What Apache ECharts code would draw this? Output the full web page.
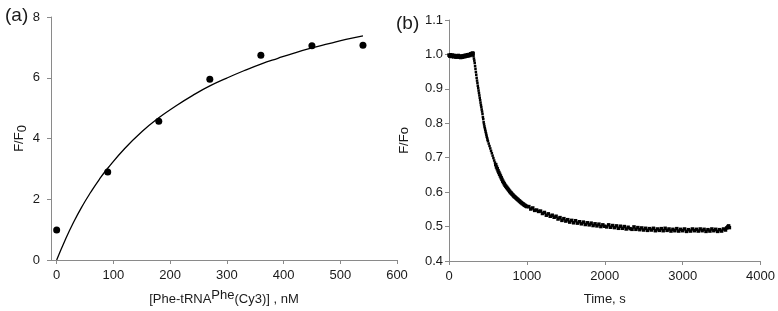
<!DOCTYPE html>
<html>
<head>
<meta charset="utf-8">
<script src="https://cdn.jsdelivr.net/npm/echarts@6/dist/echarts.min.js"></script>
<style>
  html, body { margin: 0; padding: 0; background: #fff; }
  #chart { width: 778px; height: 311px; }
</style>
</head>
<body>
<div id="chart"></div>
<script>
// panel (a): binding titration
const concTicks = [0, 100, 200, 300, 400, 500, 600];
const concPoints = [
  [0, 0.99], [90, 2.9], [180, 4.57], [270, 5.95],
  [360, 6.74], [450, 7.05], [540, 7.07],
];
// fitted curve
const fitCurve = [
  [0, 0], [15, 0.66], [30, 1.25], [45, 1.77], [60, 2.23], [75, 2.65],
  [90, 3.02], [120, 3.67], [150, 4.22], [180, 4.68], [210, 5.07],
  [240, 5.42], [270, 5.73], [300, 5.99], [330, 6.23], [360, 6.45],
  [390, 6.64], [420, 6.82], [450, 6.98], [480, 7.12], [510, 7.26],
  [540, 7.38],
];

// panel (b): time trace [s, F/Fo]
const tracePoints = [
  [0, 0.998], [10, 0.995], [20, 0.999], [30, 0.994], [40, 0.998], [50, 0.997],
  [60, 0.993], [70, 0.997], [80, 0.995], [90, 0.992], [100, 0.996], [110, 0.993],
  [120, 0.997], [130, 0.992], [140, 0.995], [150, 0.991], [160, 0.995], [170, 0.992],
  [180, 0.996], [190, 0.993], [200, 0.997], [210, 0.994], [220, 0.998], [230, 0.995],
  [240, 0.999], [250, 0.996], [260, 1.0], [270, 0.997], [280, 1.002], [290, 0.999],
  [300, 1.004], [310, 1.003],
  [315, 0.995], [320, 0.988], [325, 0.982], [330, 0.975], [335, 0.966], [340, 0.958],
  [345, 0.949], [350, 0.941], [355, 0.932], [360, 0.924], [365, 0.917], [370, 0.909],
  [375, 0.902], [380, 0.895], [385, 0.888], [390, 0.881], [395, 0.874], [400, 0.867],
  [405, 0.86], [410, 0.853], [415, 0.847], [420, 0.84], [425, 0.834], [430, 0.827],
  [435, 0.818], [440, 0.812], [445, 0.803], [450, 0.797], [455, 0.791], [460, 0.786],
  [465, 0.781], [470, 0.776], [475, 0.771], [480, 0.766], [485, 0.761], [490, 0.757],
  [495, 0.752], [500, 0.748],
  [510, 0.741], [520, 0.734], [530, 0.727], [540, 0.72], [550, 0.713], [560, 0.706],
  [570, 0.699], [580, 0.692], [590, 0.686], [600, 0.68], [610, 0.673], [620, 0.668],
  [630, 0.662], [640, 0.657], [650, 0.652], [660, 0.647], [670, 0.642], [680, 0.637],
  [690, 0.632], [700, 0.628], [710, 0.624], [720, 0.62], [730, 0.617], [740, 0.614],
  [750, 0.611], [760, 0.608], [770, 0.605], [780, 0.602], [790, 0.599], [800, 0.597],
  [810, 0.594], [820, 0.592], [830, 0.589], [840, 0.587], [850, 0.585], [860, 0.583],
  [870, 0.581], [880, 0.579], [890, 0.577], [900, 0.575], [910, 0.573], [920, 0.571],
  [930, 0.569], [940, 0.567], [950, 0.566], [960, 0.564], [970, 0.562], [980, 0.561],
  [990, 0.559], [1000, 0.558],
  [1025, 0.558], [1050, 0.551], [1075, 0.554], [1100, 0.547], [1125, 0.548], [1150, 0.544],
  [1175, 0.545], [1200, 0.538], [1225, 0.541], [1250, 0.533], [1275, 0.537], [1300, 0.53],
  [1325, 0.533], [1350, 0.527], [1375, 0.53], [1400, 0.522], [1425, 0.526], [1450, 0.518],
  [1475, 0.523], [1500, 0.516], [1525, 0.52], [1550, 0.513], [1575, 0.518], [1600, 0.511],
  [1625, 0.517], [1650, 0.51], [1675, 0.514], [1700, 0.508], [1725, 0.513], [1750, 0.506],
  [1775, 0.511], [1800, 0.505], [1825, 0.51], [1850, 0.503], [1875, 0.508], [1900, 0.502],
  [1925, 0.507], [1950, 0.5], [1975, 0.505], [2000, 0.501], [2025, 0.499], [2050, 0.505],
  [2075, 0.498], [2100, 0.503], [2125, 0.497], [2150, 0.502], [2175, 0.495], [2200, 0.501],
  [2225, 0.495], [2250, 0.5], [2275, 0.493], [2300, 0.498], [2325, 0.494], [2350, 0.492],
  [2375, 0.499], [2400, 0.492], [2425, 0.497], [2450, 0.491], [2475, 0.496], [2500, 0.49],
  [2525, 0.495], [2550, 0.489], [2575, 0.494], [2600, 0.49], [2625, 0.495], [2650, 0.488],
  [2675, 0.493], [2700, 0.489], [2725, 0.494], [2750, 0.488], [2775, 0.495], [2800, 0.489],
  [2825, 0.493], [2850, 0.487], [2875, 0.492], [2900, 0.488], [2925, 0.494], [2950, 0.487],
  [2975, 0.492], [3000, 0.488], [3025, 0.493], [3050, 0.486], [3075, 0.491], [3100, 0.487],
  [3125, 0.493], [3150, 0.488], [3175, 0.492], [3200, 0.487], [3225, 0.493], [3250, 0.488],
  [3275, 0.492], [3300, 0.486], [3325, 0.491], [3350, 0.487], [3375, 0.493], [3400, 0.488],
  [3425, 0.492], [3450, 0.486], [3475, 0.491], [3500, 0.487], [3525, 0.493], [3550, 0.49],
  [3565, 0.496], [3580, 0.499], [3590, 0.502], [3600, 0.497],
];

const FONT = '"Liberation Sans", Arial, sans-serif';
const axisGray = '#8a8a8a';
const labelColor = '#1a1a1a';

const baseAxis = {
  axisLine: { show: true, onZero: false, lineStyle: { color: axisGray, width: 1 } },
  axisTick: { show: true, inside: false, length: 4, lineStyle: { color: axisGray } },
  splitLine: { show: false },
  axisLabel: { color: labelColor, fontSize: 13, fontFamily: FONT },
  nameTextStyle: { color: labelColor, fontSize: 13, fontFamily: FONT },
};

const chart = echarts.init(document.getElementById('chart'));
const option = {
  animation: false,
  backgroundColor: '#fff',
  title: [
    { text: '(a)', left: 0, top: 1, textStyle: { fontSize: 19, fontWeight: 'normal', color: labelColor, fontFamily: FONT } },
    { text: '(b)', left: 391, top: 9, textStyle: { fontSize: 19, fontWeight: 'normal', color: labelColor, fontFamily: FONT } },
  ],
  grid: [
    { left: 51, right: 381, top: 17, bottom: 50 },
    { left: 449, right: 17, top: 20, bottom: 48 },
  ],
  xAxis: [
    {
      ...baseAxis,
      gridIndex: 0,
      type: 'value',
      min: -10,
      max: 600,
      axisTick: { ...baseAxis.axisTick, customValues: concTicks },
      axisLabel: { ...baseAxis.axisLabel, margin: 9, customValues: concTicks },
      name: '[Phe-tRNA{sup|Phe}(Cy3)] , nM',
      nameLocation: 'middle',
      nameGap: 29,
      nameTextStyle: {
        ...baseAxis.nameTextStyle,
        rich: {
          sup: { fontSize: 13, fontFamily: FONT, color: labelColor, padding: [0, 0, 8, 0] },
        },
      },
    },
    {
      ...baseAxis,
      gridIndex: 1,
      type: 'value',
      min: 0,
      max: 4000,
      interval: 1000,
      axisLabel: { ...baseAxis.axisLabel, margin: 9, formatter: (v) => String(v) },
      name: 'Time, s',
      nameLocation: 'middle',
      nameGap: 32,
    },
  ],
  yAxis: [
    {
      ...baseAxis,
      gridIndex: 0,
      type: 'value',
      min: 0,
      max: 8,
      interval: 2,
      axisLabel: { ...baseAxis.axisLabel, margin: 11 },
      name: 'F/F{sub|0}',
      nameLocation: 'middle',
      nameGap: 33,
      nameTextStyle: {
        ...baseAxis.nameTextStyle,
        verticalAlign: 'top',
        rich: {
          sub: { fontSize: 13, fontFamily: FONT, color: labelColor, padding: [6, 0, 0, 0] },
        },
      },
    },
    {
      ...baseAxis,
      gridIndex: 1,
      type: 'value',
      min: 0.4,
      max: 1.1,
      interval: 0.1,
      axisLabel: { ...baseAxis.axisLabel, margin: 6, formatter: (v) => v.toFixed(1) },
      name: 'F/Fo',
      nameLocation: 'middle',
      nameGap: 38,
    },
  ],
  series: [
    {
      type: 'line',
      xAxisIndex: 0,
      yAxisIndex: 0,
      data: fitCurve,
      smooth: true,
      showSymbol: false,
      lineStyle: { color: '#000', width: 1.3 },
      z: 2,
    },
    {
      type: 'scatter',
      xAxisIndex: 0,
      yAxisIndex: 0,
      data: concPoints,
      symbol: 'circle',
      symbolSize: 7,
      itemStyle: { color: '#000', opacity: 1 },
      z: 3,
    },
    {
      type: 'scatter',
      xAxisIndex: 1,
      yAxisIndex: 1,
      data: tracePoints,
      symbol: 'rect',
      // smaller dots on the steep part, where they show up as separate points
      symbolSize: (v) => (v[0] > 312 && v[0] < 600 ? 2.5 : 3.5),
      itemStyle: { color: '#000', opacity: 1 },
    },
  ],
};
chart.setOption(option);
</script>
</body>
</html>
